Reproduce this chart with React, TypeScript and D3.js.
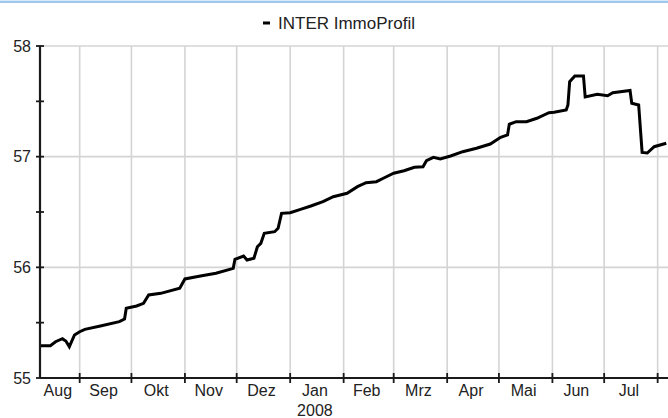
import React, { useEffect, useRef } from "react";
import * as d3 from "d3";

// series: INTER ImmoProfil
const seriesName = "INTER ImmoProfil";
const dates = [
  "2007-08-09", "2007-08-15", "2007-08-18", "2007-08-22", "2007-08-23", "2007-08-24",
  "2007-08-26", "2007-08-29", "2007-09-01", "2007-09-04", "2007-09-13", "2007-09-24",
  "2007-09-27", "2007-09-28", "2007-10-04", "2007-10-08", "2007-10-11", "2007-10-18",
  "2007-10-29", "2007-11-01", "2007-11-10", "2007-11-19", "2007-11-29", "2007-11-30",
  "2007-12-05", "2007-12-07", "2007-12-11", "2007-12-13", "2007-12-15", "2007-12-17",
  "2007-12-23", "2007-12-25", "2007-12-27", "2008-01-01", "2008-01-07", "2008-01-13",
  "2008-01-20", "2008-01-26", "2008-02-03", "2008-02-09", "2008-02-14", "2008-02-20",
  "2008-02-24", "2008-03-01", "2008-03-07", "2008-03-13", "2008-03-18", "2008-03-20",
  "2008-03-24", "2008-03-28", "2008-04-03", "2008-04-10", "2008-04-18", "2008-04-26",
  "2008-05-02", "2008-05-06", "2008-05-07", "2008-05-11", "2008-05-17", "2008-05-23",
  "2008-05-30", "2008-06-02", "2008-06-09", "2008-06-10", "2008-06-11", "2008-06-14",
  "2008-06-19", "2008-06-20", "2008-06-27", "2008-07-03", "2008-07-06", "2008-07-16",
  "2008-07-17", "2008-07-21", "2008-07-23", "2008-07-26", "2008-07-30", "2008-08-06",
];
const values = [
  55.292, 55.292, 55.328, 55.355, 55.343, 55.334,
  55.283, 55.389, 55.418, 55.44, 55.47, 55.509,
  55.533, 55.63, 55.651, 55.675, 55.75, 55.765,
  55.811, 55.895, 55.922, 55.946, 55.991, 56.073,
  56.102, 56.066, 56.082, 56.186, 56.217, 56.308,
  56.322, 56.353, 56.488, 56.494, 56.524, 56.554,
  56.593, 56.638, 56.669, 56.729, 56.765, 56.774,
  56.805, 56.85, 56.873, 56.904, 56.909, 56.964,
  56.994, 56.979, 57.006, 57.045, 57.076, 57.114,
  57.175, 57.196, 57.293, 57.316, 57.316, 57.347,
  57.397, 57.401, 57.422, 57.467, 57.677, 57.729,
  57.729, 57.539, 57.564, 57.551, 57.578, 57.598,
  57.482, 57.467, 57.038, 57.033, 57.09, 57.121,
];

const monthLabels = ["Aug", "Sep", "Okt", "Nov", "Dez", "Jan", "Feb", "Mrz", "Apr", "Mai", "Jun", "Jul"];
const yearLabel = "2008";
const yTicks = [55, 56, 57, 58];
const yMinorTicks = [55.5, 56.5, 57.5];

const W = 668;
const H = 418;
const FONT = "Arial, 'Liberation Sans', sans-serif";

export default function App() {
  const ref = useRef<SVGSVGElement>(null);

  useEffect(() => {
    if (!ref.current) return;
    const svg = d3.select(ref.current);
    svg.selectAll("*").remove();

    const parse = d3.timeParse("%Y-%m-%d");
    const data = dates.map((d, i) => ({ date: parse(d) as Date, value: values[i] }));

    const x = d3
      .scaleTime()
      .domain([new Date(2007, 7, 9), new Date(2008, 7, 7)])
      .range([40, 668]);
    const y = d3.scaleLinear().domain([55, 58]).range([378, 46]);

    // top border strip
    svg.append("rect").attr("x", 0).attr("y", 0).attr("width", W).attr("height", 1).attr("fill", "#dbe9f7");
    svg.append("rect").attr("x", 0).attr("y", 1).attr("width", W).attr("height", 2).attr("fill", "#9fc8ef");

    // month boundaries
    const months = d3.timeMonth.range(new Date(2007, 8, 1), new Date(2008, 7, 2));

    // grid
    svg
      .append("g")
      .selectAll("line")
      .data(months)
      .join("line")
      .attr("x1", (d) => x(d))
      .attr("x2", (d) => x(d))
      .attr("y1", y(58))
      .attr("y2", y(55))
      .attr("stroke", "#d4d4d4")
      .attr("stroke-width", 1.6);

    svg
      .append("g")
      .selectAll("line")
      .data(yTicks.filter((t) => t > 55))
      .join("line")
      .attr("x1", 40)
      .attr("x2", W)
      .attr("y1", (d) => y(d))
      .attr("y2", (d) => y(d))
      .attr("stroke", "#d4d4d4")
      .attr("stroke-width", 1.6);

    // line
    const line = d3
      .line<{ date: Date; value: number }>()
      .x((d) => x(d.date))
      .y((d) => y(d.value));
    svg
      .append("path")
      .datum(data)
      .attr("d", line)
      .attr("fill", "none")
      .attr("stroke", "#000")
      .attr("stroke-width", 3)
      .attr("stroke-linejoin", "miter");

    // y axis
    const ya = svg.append("g");
    ya.append("line").attr("x1", 40).attr("x2", 40).attr("y1", y(58)).attr("y2", y(55)).attr("stroke", "#1a1a1a").attr("stroke-width", 2.2);
    ya.selectAll("line.tick")
      .data([...yTicks, ...yMinorTicks])
      .join("line")
      .attr("class", "tick")
      .attr("x1", 36)
      .attr("x2", 44)
      .attr("y1", (d) => y(d))
      .attr("y2", (d) => y(d))
      .attr("stroke", "#1a1a1a")
      .attr("stroke-width", 1.8);
    ya.selectAll("text")
      .data(yTicks)
      .join("text")
      .attr("x", 31)
      .attr("y", (d) => y(d))
      .attr("dy", "0.36em")
      .attr("text-anchor", "end")
      .style("font", `16px ${FONT}`)
      .attr("fill", "#222")
      .text((d) => d);

    // x axis
    const xa = svg.append("g");
    xa.append("line").attr("x1", 40).attr("x2", W).attr("y1", 378).attr("y2", 378).attr("stroke", "#1a1a1a").attr("stroke-width", 2.2);
    xa.selectAll("line.tick")
      .data(months)
      .join("line")
      .attr("class", "tick")
      .attr("x1", (d) => x(d))
      .attr("x2", (d) => x(d))
      .attr("y1", 373)
      .attr("y2", 383)
      .attr("stroke", "#1a1a1a")
      .attr("stroke-width", 1.8);

    const [d0, d1] = x.domain();
    const monthStarts = [new Date(2007, 7, 1), ...months];
    const labelPos = monthStarts.map((m) => {
      const a = m < d0 ? d0 : m;
      const next = d3.timeMonth.offset(m, 1);
      const b = next > d1 ? d1 : next;
      return (x(a) + x(b)) / 2 - 2;
    });
    xa.selectAll("text.month")
      .data(monthLabels)
      .join("text")
      .attr("class", "month")
      .attr("x", (d, i) => labelPos[i])
      .attr("y", 396)
      .attr("text-anchor", "middle")
      .style("font", `16px ${FONT}`)
      .attr("fill", "#222")
      .text((d) => d);
    xa.append("text")
      .attr("x", labelPos[monthLabels.indexOf("Jan")])
      .attr("y", 416)
      .attr("text-anchor", "middle")
      .style("font", `16px ${FONT}`)
      .attr("fill", "#222")
      .text(yearLabel);

    // legend
    const lg = svg.append("g");
    lg.append("line").attr("x1", 263).attr("x2", 270).attr("y1", 23).attr("y2", 23).attr("stroke", "#000").attr("stroke-width", 3);
    lg.append("text")
      .attr("x", 278)
      .attr("y", 29)
      .style("font", `17px ${FONT}`)
      .attr("fill", "#222")
      .text(seriesName);
  }, []);

  return (
    <div style={{ position: "fixed", left: 0, top: 0, width: W, height: H, background: "#fff" }}>
      <svg ref={ref} width={W} height={H} style={{ display: "block" }} />
    </div>
  );
}
